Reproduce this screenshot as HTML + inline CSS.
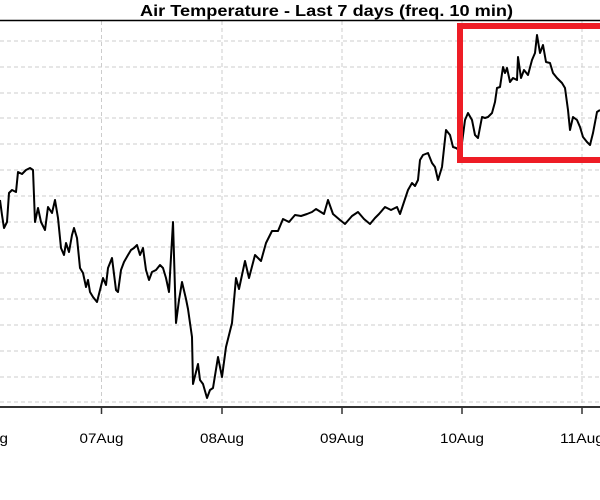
<!DOCTYPE html>
<html><head><meta charset="utf-8"><style>body{margin:0;background:#fff}svg{display:block}</style></head>
<body>
<svg width="600" height="500" viewBox="0 0 600 500" xmlns="http://www.w3.org/2000/svg">
<rect width="600" height="500" fill="#fff"/>
<text x="140" y="16" textLength="373" lengthAdjust="spacingAndGlyphs" font-family="Liberation Sans, sans-serif" font-weight="bold" font-size="16">Air Temperature - Last 7 days (freq. 10 min)</text>
<g stroke="#ccc" stroke-width="1" stroke-dasharray="4,3">
<line x1="0" x2="600" y1="41" y2="41"/><line x1="0" x2="600" y1="67" y2="67"/><line x1="0" x2="600" y1="93" y2="93"/><line x1="0" x2="600" y1="118" y2="118"/><line x1="0" x2="600" y1="144" y2="144"/><line x1="0" x2="600" y1="170" y2="170"/><line x1="0" x2="600" y1="196" y2="196"/><line x1="0" x2="600" y1="222" y2="222"/><line x1="0" x2="600" y1="247" y2="247"/><line x1="0" x2="600" y1="273" y2="273"/><line x1="0" x2="600" y1="299" y2="299"/><line x1="0" x2="600" y1="325" y2="325"/><line x1="0" x2="600" y1="351" y2="351"/><line x1="0" x2="600" y1="377" y2="377"/><line x1="0" x2="600" y1="402" y2="402"/>
<line x1="101.5" x2="101.5" y1="21" y2="407"/><line x1="222" x2="222" y1="21" y2="407"/><line x1="342" x2="342" y1="21" y2="407"/><line x1="462" x2="462" y1="21" y2="407"/><line x1="582" x2="582" y1="21" y2="407"/>
</g>
<line x1="0" x2="600" y1="20.5" y2="20.5" stroke="#000" stroke-width="1.5"/>
<line x1="0" x2="600" y1="407" y2="407" stroke="#333" stroke-width="2"/>
<g stroke="#333" stroke-width="1.5">
<line x1="101.5" x2="101.5" y1="407" y2="414"/><line x1="222" x2="222" y1="407" y2="414"/><line x1="342" x2="342" y1="407" y2="414"/><line x1="462" x2="462" y1="407" y2="414"/><line x1="582" x2="582" y1="407" y2="414"/>
</g>
<g font-family="Liberation Sans, sans-serif" font-size="14">
<text x="-36" y="443" textLength="44" lengthAdjust="spacingAndGlyphs">06Aug</text><text x="79.5" y="443" textLength="44" lengthAdjust="spacingAndGlyphs">07Aug</text><text x="200" y="443" textLength="44" lengthAdjust="spacingAndGlyphs">08Aug</text><text x="320" y="443" textLength="44" lengthAdjust="spacingAndGlyphs">09Aug</text><text x="440" y="443" textLength="44" lengthAdjust="spacingAndGlyphs">10Aug</text><text x="560" y="443" textLength="44" lengthAdjust="spacingAndGlyphs">11Aug</text>
</g>
<polyline fill="none" stroke="#000" stroke-width="2" stroke-linejoin="round" points="0,200 2,215 4,228 7,222 9,193 12,190 16,192 18,172 22,174 26,170 30,168 33,170 35,222 38,208 41,222 45,230 48,207 52,213 55,200 58,218 61,248 64,255 66,243 69,252 72,235 74,228 77,238 80,268 83,273 86,287 88,280 90,292 93,297 97,302 100,290 103,278 106,285 108,268 112,258 116,290 118,292 121,270 124,262 128,255 131,250 134,248 137,245 140,255 143,248 146,270 149,280 152,272 156,270 160,265 163,268 166,278 169,292 173,222 176,323 179,300 182,282 186,299 188,309 192,337 193,384 198,364 200,380 203,384 207,398 210,390 213,388 218,357 222,377 226,347 232,323 236,278 239,289 245,261 249,278 255,255 261,261 266,243 272,231 278,231 283,219 289,222 295,215 301,216 307,214 312,212 316,209 324,214 328,200 333,214 340,220 345,224 352,216 358,212 364,219 370,224 375,218 379,214 385,207 391,210 397,207 400,214 404,202 408,190 412,183 415,186 418,180 420,160 423,155 428,153 432,163 435,167 438,180 442,167 446,130 450,135 453,147 456,148 459,150 462,143 465,120 468,113 472,120 475,135 478,138 482,117 485,118 488,117 492,113 495,102 497,88 500,87 503,67 505,73 507,68 510,82 513,78 517,80 518,57 521,78 524,70 528,75 532,60 535,53 537,35 540,53 543,45 546,62 550,63 553,73 557,78 562,83 565,88 568,110 570,130 573,117 577,120 580,127 583,137 587,142 590,145 593,133 597,112 600,110"/>
<rect x="460" y="26" width="160" height="134" fill="none" stroke="#ee1c25" stroke-width="6"/>
</svg>
</body></html>
